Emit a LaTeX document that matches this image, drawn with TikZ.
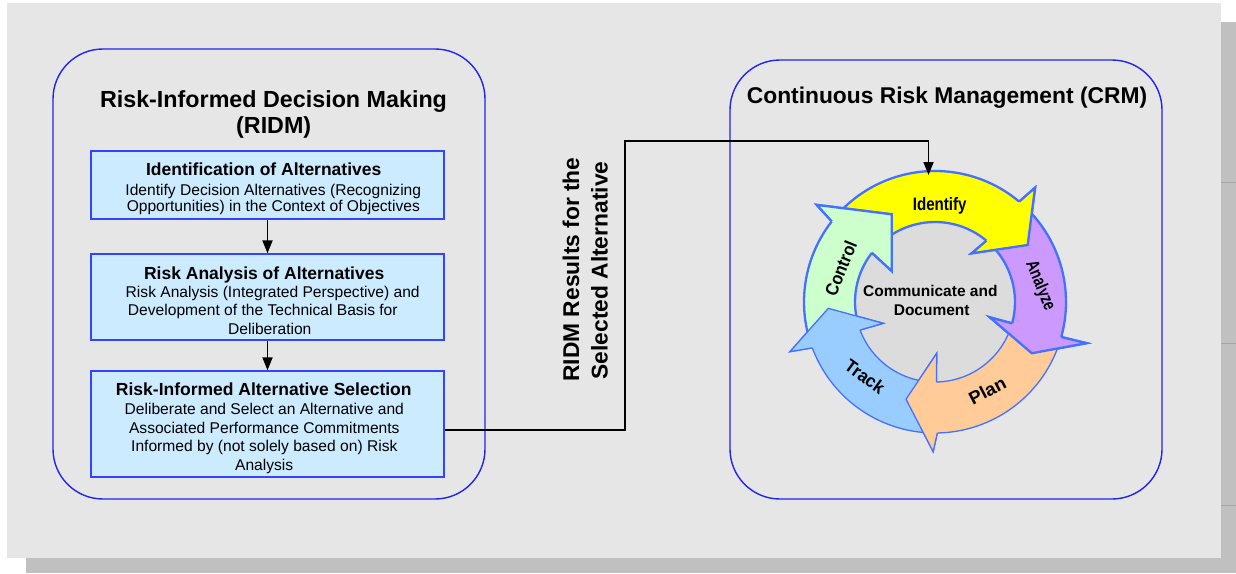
\documentclass[tikz,border=0pt]{standalone}
\usepackage{fontspec}
\setmainfont{Liberation Sans}
\usetikzlibrary{arrows.meta}
\definecolor{panel}{HTML}{E6E6E6}
\definecolor{shadowc}{HTML}{C0C0C0}
\definecolor{shadowline}{HTML}{A3A3A3}
\definecolor{frameblue}{HTML}{2424EE}
\definecolor{boxblue}{HTML}{3344FF}
\definecolor{boxfill}{HTML}{CCEBFF}
\definecolor{ringline}{HTML}{4472FF}
\definecolor{cyel}{HTML}{FFFF00}
\definecolor{cpur}{HTML}{CC99FF}
\definecolor{cora}{HTML}{FFCC99}
\definecolor{cblu}{HTML}{99CCFF}
\definecolor{cgre}{HTML}{CCFFCC}
\definecolor{cgray}{HTML}{DCDCDC}
\begin{document}
\begin{tikzpicture}[x=1pt,y=-1pt,
  frame/.style={draw=frameblue, line width=1.4pt, rounded corners=50pt, inner sep=0pt},
  stepbox/.style={draw=boxblue, fill=boxfill, line width=1.3pt, minimum width=353pt, inner sep=0pt},
  hd/.style={font=\bfseries\fontsize{17.5}{20}\selectfont, anchor=base, inner sep=0pt},
  bd/.style={font=\fontsize{15.6}{18}\selectfont, anchor=base, inner sep=0pt},
  ttl/.style={font=\bfseries\fontsize{23.3}{26}\selectfont, anchor=base, inner sep=0pt},
  vert/.style={font=\bfseries\fontsize{22.8}{26}\selectfont, anchor=base, rotate=90, inner sep=0pt},
  flow/.style={-{Triangle[length=13pt,width=10pt]}, line width=1.8pt},
  arrowlbl/.style={font=\bfseries\fontsize{18}{20}\selectfont, inner sep=0pt},
  thickring/.style={draw=ringline, line width=2.3pt},
  thinring/.style={draw=ringline, line width=1.3pt}]
\useasboundingbox (0,0) rectangle (1236,573);
\fill[white] (0,0) rectangle (1236,573);
% panel and shadow
\fill[shadowc] (26,22) rectangle (1236,573);
\fill[panel] (7,3) rectangle (1221,557.5);
\draw[shadowline, line width=1pt] (1221,182.5) -- (1236,182.5);
\draw[shadowline, line width=1pt] (1221,343) -- (1236,343);
\draw[shadowline, line width=0.8pt] (1221,505) -- (1236,505);

% frames
\node[frame, minimum width=432pt, minimum height=450pt] (ridm) at (269,274) {};
\node[frame, minimum width=432pt, minimum height=439pt] (crm) at (946,279.5) {};

% titles
\node[ttl] (ridmt1) at (273.5,107.3) {Risk-Informed Decision Making};
\node[ttl] (ridmt2) at (273.7,133.3) {(RIDM)};
\node[font=\bfseries\fontsize{22.8}{26}\selectfont, anchor=base, inner sep=0pt] (crmt) at (947,103.5) {Continuous Risk Management (CRM)};

% RIDM boxes
\node[stepbox, minimum height=68pt] (b1) at (267.5,185) {};
\node[stepbox, minimum height=86pt] (b2) at (267.5,297) {};
\node[stepbox, minimum height=106pt] (b3) at (267.5,424) {};

\node[hd] (b1h) at (263.7,175) {Identification of Alternatives};
\node[bd] (b1a) at (273.3,195) {Identify Decision Alternatives (Recognizing};
\node[bd] (b1b) at (273.3,211.7) {Opportunities) in the Context of Objectives};

\node[hd] (b2h) at (264.2,279.3) {Risk Analysis of Alternatives};
\node[bd] (b2a) at (272.7,297.3) {Risk Analysis (Integrated Perspective) and};
\node[bd] (b2b) at (262.8,315.3) {Development of the Technical Basis for};
\node[bd] (b2c) at (269.8,334.3) {Deliberation};

\node[hd] (b3h) at (263.8,395) {Risk-Informed Alternative Selection};
\node[bd] (b3a) at (264.3,414) {Deliberate and Select an Alternative and};
\node[bd] (b3b) at (264.3,433) {Associated Performance Commitments};
\node[bd] (b3c) at (264.3,451.3) {Informed by (not solely based on) Risk};
\node[bd] (b3d) at (264.2,470) {Analysis};

\draw[flow] (b1.south) -- (b2.north);
\draw[flow] (b2.south) -- (b3.north);

% vertical label
\node[vert] (v1) at (579,269.5) {RIDM Results for the};
\node[vert] (v2) at (607.5,270.5) {Selected Alternative};

% cycle
\begin{scope}[shift={(935,302)}, yscale=-1]
\fill[cgray] (0,0) circle[radius=82];
% bodies
\filldraw[thickring, fill=cyel] (139:131) arc[start angle=139, end angle=50, radius=131] -- (48.8:151.9) -- (31.6:108.8) -- (53:61) -- (50:80) arc[start angle=50, end angle=139, radius=80] -- cycle;
\filldraw[thickring, fill=cpur] (46:131) arc[start angle=46, end angle=-15.5, radius=131] -- (-15.2:157) -- (-27.9:109.5) -- (-15.6:57) -- (-15.5:80) arc[start angle=-15.5, end angle=46, radius=80] -- cycle;
\filldraw[thinring, fill=cora] (-19:131) arc[start angle=-19, end angle=-89, radius=131] -- (-90.7:149.7) -- (-106.6:101.5) -- (-88.1:51.3) -- (-89:80) arc[start angle=-89, end angle=-19, radius=80] -- cycle;
\filldraw[thinring, fill=cblu] (267:131) arc[start angle=267, end angle=200.5, radius=131] -- (198.9:153.3) -- (183.4:106.9) -- (202.4:55.9) -- (200.5:80) arc[start angle=200.5, end angle=267, radius=80] -- cycle;
\filldraw[thickring, fill=cgre] (197:131) arc[start angle=197, end angle=142, radius=131] -- (140.6:153) -- (116.3:97.8) -- (144.4:53.3) -- (142:80) arc[start angle=142, end angle=197, radius=80] -- cycle;
% heads on top
\fill[cyel] (50:131) -- (48.8:151.9) -- (31.6:108.8) -- (53:61) -- (50:80) -- cycle;
\draw[thickring] (50:131) -- (48.8:151.9) -- (31.6:108.8) -- (53:61) -- (50:80);
\fill[cpur] (-15.5:131) -- (-15.2:157) -- (-27.9:109.5) -- (-15.6:57) -- (-15.5:80) -- cycle;
\draw[thickring] (-15.5:131) -- (-15.2:157) -- (-27.9:109.5) -- (-15.6:57) -- (-15.5:80);
\fill[cora] (-89:131) -- (-90.7:149.7) -- (-106.6:101.5) -- (-88.1:51.3) -- (-89:80) -- cycle;
\draw[thinring] (-89:131) -- (-90.7:149.7) -- (-106.6:101.5) -- (-88.1:51.3) -- (-89:80);
\fill[cblu] (200.5:131) -- (198.9:153.3) -- (183.4:106.9) -- (202.4:55.9) -- (200.5:80) -- cycle;
\draw[thinring] (200.5:131) -- (198.9:153.3) -- (183.4:106.9) -- (202.4:55.9) -- (200.5:80);
\fill[cgre] (142:131) -- (140.6:153) -- (116.3:97.8) -- (144.4:53.3) -- (142:80) -- cycle;
\draw[thickring] (142:131) -- (140.6:153) -- (116.3:97.8) -- (144.4:53.3) -- (142:80);
\end{scope}

\node[arrowlbl, anchor=base, xscale=0.84] (lid) at (939.7,210) {Identify};
\node[arrowlbl, rotate=-67.5, xscale=0.765] (lan) at (1040,286) {Analyze};
\node[arrowlbl, rotate=27.6, xscale=1.04] (lpl) at (987.3,390.7) {Plan};
\node[arrowlbl, rotate=-36, xscale=0.94] (ltr) at (865,376.7) {Track};
\node[arrowlbl, rotate=68, xscale=0.9] (lco) at (840.7,268.3) {Control};

\node[font=\bfseries\fontsize{15.5}{18}\selectfont, anchor=base, inner sep=0pt] (cd1) at (930.3,296.7) {Communicate and};
\node[font=\bfseries\fontsize{15.5}{18}\selectfont, anchor=base, inner sep=0pt] (cd2) at (931.7,315) {Document};

% connector
\coordinate (j1) at (625,141);
\coordinate (ctop) at (928.5,175);
\draw[flow] ([yshift=-6pt]b3.east) -| (j1) -| (ctop);
\end{tikzpicture}
\end{document}
